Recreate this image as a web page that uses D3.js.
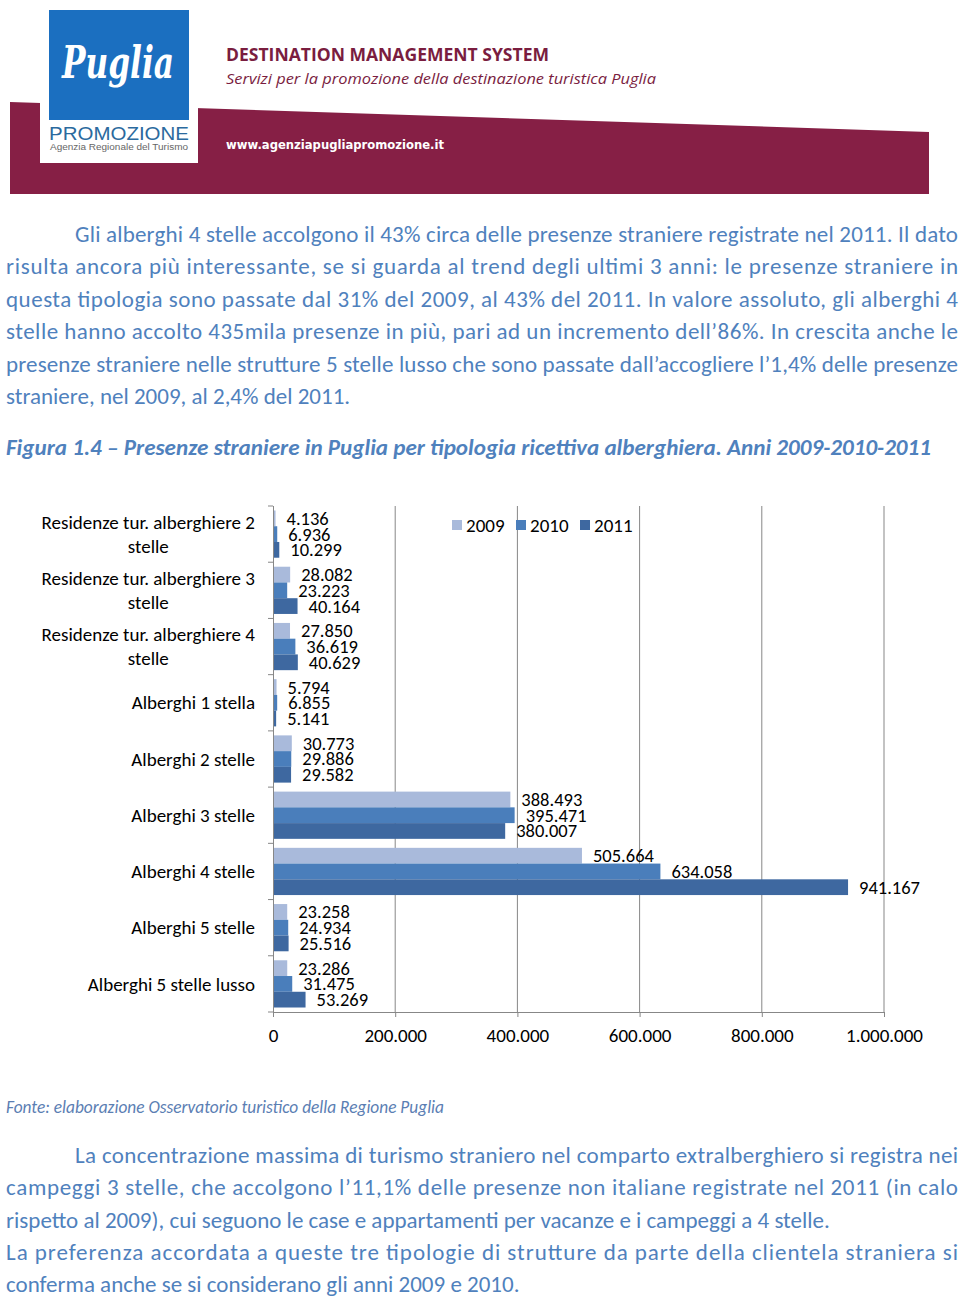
<!DOCTYPE html>
<html><head><meta charset="utf-8">
<script src="https://cdn.jsdelivr.net/npm/d3@7/dist/d3.min.js"></script>
<style>
html,body{margin:0;padding:0;background:#fff;}
svg{display:block;}
</style>
</head><body>
<svg id="page" width="960" height="1299"></svg>
<script>
// ---------- DATA ----------
const categories = [
  "Residenze tur. alberghiere 2 stelle",
  "Residenze tur. alberghiere 3 stelle",
  "Residenze tur. alberghiere 4 stelle",
  "Alberghi 1 stella",
  "Alberghi 2 stelle",
  "Alberghi 3 stelle",
  "Alberghi 4 stelle",
  "Alberghi 5 stelle",
  "Alberghi 5 stelle lusso"
];
const years = ["2009", "2010", "2011"];
const values2009 = [4136, 28082, 27850, 5794, 30773, 388493, 505664, 23258, 23286];
const values2010 = [6936, 23223, 36619, 6855, 29886, 395471, 634058, 24934, 31475];
const values2011 = [10299, 40164, 40629, 5141, 29582, 380007, 941167, 25516, 53269];
const tickValues = [0, 200000, 400000, 600000, 800000, 1000000];
const tickLabels = ["0", "200.000", "400.000", "600.000", "800.000", "1.000.000"];
const seriesColors = ["#a9badb", "#4a7ebb", "#3e68a0"];

const para1 = [
  "Gli alberghi 4 stelle accolgono il 43% circa delle presenze straniere registrate nel 2011. Il dato",
  "risulta ancora più interessante, se si guarda al trend degli ultimi 3 anni: le presenze straniere in",
  "questa tipologia sono passate dal 31% del 2009, al 43% del 2011. In valore assoluto, gli alberghi 4",
  "stelle hanno accolto 435mila presenze in più, pari ad un incremento dell’86%. In crescita anche le",
  "presenze straniere nelle strutture 5 stelle lusso che sono passate dall’accogliere l’1,4% delle presenze",
  "straniere, nel 2009, al 2,4% del 2011."
];
const para2 = [
  "La concentrazione massima di turismo straniero nel comparto extralberghiero si registra nei",
  "campeggi 3 stelle, che accolgono l’11,1% delle presenze non italiane registrate nel 2011 (in calo",
  "rispetto al 2009), cui seguono le case e appartamenti per vacanze e i campeggi a 4 stelle.",
  "La preferenza accordata a queste tre tipologie di strutture da parte della clientela straniera si",
  "conferma anche se si considerano gli anni 2009 e 2010."
];
const figTitle = "Figura 1.4 – Presenze straniere in Puglia per tipologia ricettiva alberghiera. Anni 2009-2010-2011";
const sourceText = "Fonte: elaborazione Osservatorio turistico della Regione Puglia";

// ---------- PAGE ----------
const FONT = "Carlito, Calibri, 'Open Sans', sans-serif";
const svg = d3.select("#page");
const textBlue = "#4f81bd";
const maroon = "#861f45";

// scale a text's font-size so its natural width matches a target width
function fit(t, target) {
  const fs = +t.attr("font-size");
  const w = t.node().getComputedTextLength();
  if (w > 0) t.attr("font-size", fs * target / w);
  t.attr("textLength", target).attr("lengthAdjust", "spacingAndGlyphs");
  return t;
}

// Header
const hdr = svg.append("g");
hdr.append("polygon").attr("points", "10,102 929,132 929,194 10,194").attr("fill", maroon);
hdr.append("rect").attr("x", 40).attr("y", 0).attr("width", 158).attr("height", 163).attr("fill", "#fff");
hdr.append("rect").attr("x", 49).attr("y", 10).attr("width", 140).attr("height", 110).attr("fill", "#1b6fc0");
hdr.append("text").attr("x", 118).attr("y", 78).attr("text-anchor", "middle")
  .attr("font-family", "'DejaVu Serif', serif").attr("font-style", "italic").attr("font-weight", "bold")
  .attr("font-size", 44).attr("fill", "#fff").attr("textLength", 112).attr("lengthAdjust", "spacingAndGlyphs")
  .text("Puglia");
hdr.append("text").attr("x", 49).attr("y", 140).attr("font-family", "'Liberation Sans', Arial, sans-serif")
  .attr("font-size", 19).attr("fill", "#2b6a9e").attr("textLength", 140).attr("lengthAdjust", "spacingAndGlyphs")
  .text("PROMOZIONE");
hdr.append("text").attr("x", 50).attr("y", 150).attr("font-family", "'Liberation Sans', Arial, sans-serif")
  .attr("font-size", 8.5).attr("fill", "#666").attr("textLength", 138).attr("lengthAdjust", "spacingAndGlyphs")
  .text("Agenzia Regionale del Turismo");
hdr.append("text").attr("x", 226).attr("y", 61).attr("font-family", "'Open Sans', sans-serif").attr("font-weight", "bold")
  .attr("font-size", 18).attr("fill", "#7a1d3f").attr("textLength", 323).attr("lengthAdjust", "spacingAndGlyphs")
  .text("DESTINATION MANAGEMENT SYSTEM");
hdr.append("text").attr("x", 226).attr("y", 84).attr("font-family", "'Open Sans', sans-serif").attr("font-style", "italic")
  .attr("font-size", 15).attr("fill", "#7a1d3f").attr("textLength", 430).attr("lengthAdjust", "spacingAndGlyphs")
  .text("Servizi per la promozione della destinazione turistica Puglia");
hdr.append("text").attr("x", 226).attr("y", 149).attr("font-family", "'DejaVu Sans', sans-serif").attr("font-weight", "bold")
  .attr("font-size", 12.5).attr("fill", "#fff").attr("textLength", 218).attr("lengthAdjust", "spacingAndGlyphs")
  .text("www.agenziapugliapromozione.it");

// Paragraph helper (justified lines)
function paragraph(lines, y0, lh, justifiedFlags) {
  const g = svg.append("g").attr("font-family", FONT).attr("font-size", 23).attr("fill", textBlue);
  lines.forEach((ln, i) => {
    const x = i === 0 ? 75 : 6;
    const t = g.append("text").attr("x", x).attr("y", y0 + i * lh).text(ln);
    if (justifiedFlags[i]) t.attr("textLength", 958 - x).attr("lengthAdjust", "spacing");
  });
}
paragraph(para1, 242, 32.4, [true, true, true, true, true, false]);
paragraph(para2, 1163, 32.3, [true, true, false, true, false]);

fit(svg.append("text").attr("x", 6).attr("y", 455).attr("font-family", FONT).attr("font-weight", "bold")
  .attr("font-style", "italic").attr("font-size", 22).attr("fill", textBlue).text(figTitle), 925);
fit(svg.append("text").attr("x", 6).attr("y", 1113).attr("font-family", FONT)
  .attr("font-style", "italic").attr("font-size", 16).attr("fill", "#5b7eb3").text(sourceText), 438);

// ---------- CHART ----------
const plot = { left: 273, right: 884, top: 506, bottom: 1012 };
const x = d3.scaleLinear().domain([0, 1000000]).range([plot.left, plot.right]);
const y = d3.scaleBand().domain(categories).range([plot.top, plot.bottom]).paddingInner(0.16).paddingOuter(0.08);
const ySub = d3.scaleBand().domain(years).range([0, y.bandwidth()]);
const fmt = d3.formatLocale({ decimal: ",", thousands: ".", grouping: [3], currency: ["€", ""] }).format(",d");
const CHART_FS = 19;
const LABEL_FS = 18.5;

const chart = svg.append("g").attr("font-family", FONT).attr("fill", "#000");
const gridColor = "#878787";

// gridlines
chart.append("g").selectAll("line").data(tickValues.slice(1)).join("line")
  .attr("x1", d => x(d)).attr("x2", d => x(d)).attr("y1", plot.top).attr("y2", plot.bottom)
  .attr("stroke", gridColor).attr("stroke-width", 1);

// x axis
const xAxis = d3.axisBottom(x).tickValues(tickValues).tickFormat((d, i) => tickLabels[i]).tickSize(5).tickPadding(12);
const xg = chart.append("g").attr("transform", `translate(0,${plot.bottom})`).call(xAxis);
xg.select(".domain").attr("stroke", gridColor).attr("d", `M${plot.left},0.5H${plot.right}`);
xg.selectAll(".tick line").attr("stroke", gridColor);
xg.selectAll(".tick text").attr("font-family", FONT).attr("font-size", CHART_FS).attr("fill", "#000");

// y axis line & ticks at band boundaries
const bandEdges = categories.map(c => y(c) - y.step() * y.paddingInner() / 2);
bandEdges.push(plot.bottom);
chart.append("line").attr("x1", plot.left + 0.5).attr("x2", plot.left + 0.5).attr("y1", plot.top).attr("y2", plot.bottom)
  .attr("stroke", gridColor);
chart.append("g").selectAll("line").data(bandEdges).join("line")
  .attr("x1", plot.left - 5).attr("x2", plot.left).attr("y1", d => d).attr("y2", d => d)
  .attr("stroke", gridColor);

// bars
const seriesData = [values2009, values2010, values2011];
years.forEach((yr, si) => {
  const g = chart.append("g");
  g.selectAll("rect").data(categories).join("rect")
    .attr("x", x(0) + 1)
    .attr("y", c => y(c) + ySub(yr))
    .attr("width", (c, i) => Math.max(0, x(seriesData[si][i]) - x(0) - 1))
    .attr("height", ySub.bandwidth())
    .attr("fill", seriesColors[si]);
  g.selectAll("text").data(categories).join("text")
    .attr("x", (c, i) => x(seriesData[si][i]) + 11)
    .attr("y", c => y(c) + ySub(yr) + ySub.bandwidth() / 2)
    .attr("dy", "0.35em")
    .attr("font-size", LABEL_FS)
    .text((c, i) => fmt(seriesData[si][i]));
});

// category labels (wrapped, right aligned, wrapped lines centered)
const labelRight = 255, maxW = 225;
categories.forEach(c => {
  const t = chart.append("text").attr("font-size", CHART_FS).attr("text-anchor", "end");
  const words = c.split(" ");
  const lines = [];
  let cur = [];
  words.forEach(w => {
    const test = cur.concat([w]).join(" ");
    t.text(test);
    if (t.node().getComputedTextLength() > maxW && cur.length) { lines.push(cur.join(" ")); cur = [w]; }
    else cur.push(w);
  });
  lines.push(cur.join(" "));
  t.text(null);
  const widths = lines.map(l => { t.text(l); return t.node().getComputedTextLength(); });
  t.text(null);
  const maxLine = d3.max(widths);
  const cx = labelRight - maxLine / 2;
  const lh = 24;
  const yc = y(c) + y.bandwidth() / 2;
  lines.forEach((l, i) => {
    t.append("tspan").attr("x", lines.length > 1 ? cx : labelRight)
      .attr("text-anchor", lines.length > 1 ? "middle" : "end")
      .attr("y", yc + (i - (lines.length - 1) / 2) * lh).attr("dy", "0.35em").text(l);
  });
});

// legend
const legend = chart.append("g");
const legX = [452, 516, 580];
years.forEach((yr, i) => {
  legend.append("rect").attr("x", legX[i]).attr("y", 520).attr("width", 10).attr("height", 10).attr("fill", seriesColors[i]);
  legend.append("text").attr("x", legX[i] + 14).attr("y", 525).attr("dy", "0.35em").attr("font-size", CHART_FS).text(yr);
});
</script>
</body></html>
